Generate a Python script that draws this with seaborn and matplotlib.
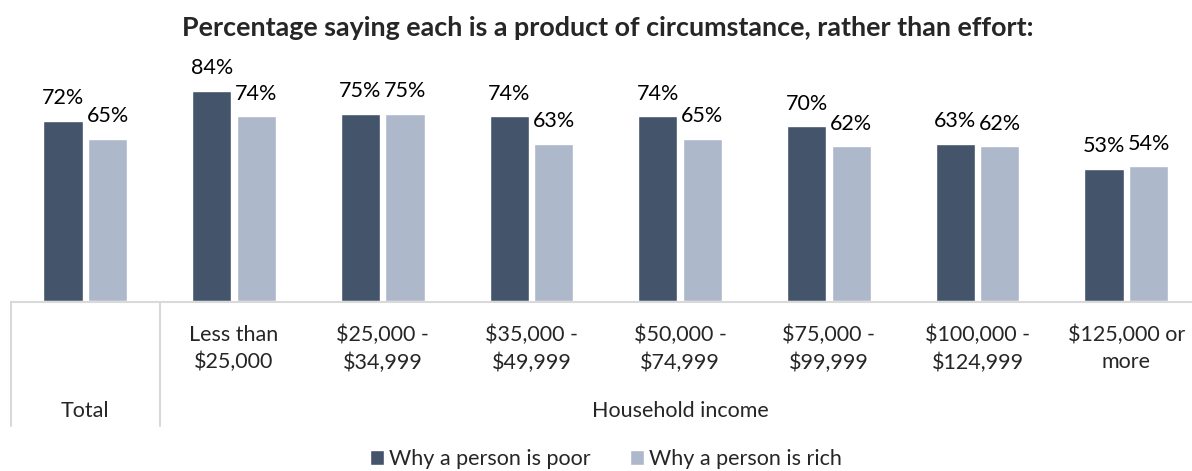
import pandas as pd
import matplotlib.pyplot as plt
import seaborn as sns
from matplotlib.patches import Patch

categories = ["Total", "Less than\n$25,000", "$25,000 -\n$34,999", "$35,000 -\n$49,999",
              "$50,000 -\n$74,999", "$75,000 -\n$99,999", "$100,000 -\n$124,999", "$125,000 or\nmore"]
poor = [72, 84, 75, 74, 74, 70, 63, 53]
rich = [65, 74, 75, 63, 65, 62, 62, 54]
series = ["Why a person is poor", "Why a person is rich"]
group_label = "Household income"
title = "Percentage saying each is a product of circumstance, rather than effort:"

colors = ["#44546A", "#ADB9CA"]
grid_col = "#D9D9D9"

df = pd.DataFrame({
    "cat": categories * 2,
    "series": [series[0]] * len(categories) + [series[1]] * len(categories),
    "val": poor + rich,
})

sns.set_style("white")
plt.rcParams['font.family'] = ['Lato', 'DejaVu Sans']
fs = 15.5

W, H = 1192, 471
fig = plt.figure(figsize=(W / 100, H / 100), dpi=100)
# axes: left edge 11px, category width ~148.7px, baseline at y=301, 2.5px per %
left, cw, base = 11, 148.7, 301
ax = fig.add_axes([left / W, 1 - base / H, 8 * cw / W, 250 / H])

sns.barplot(data=df, x="cat", y="val", hue="series", palette=colors,
            width=0.6, gap=0.12, ax=ax, legend=False, saturation=1)
ax.set_xlim(-0.5, 7.5)
ax.set_ylim(0, 100)

for cont in ax.containers:
    ax.bar_label(cont, labels=[f"{v:.0f}%" for v in cont.datavalues],
                 padding=9, fontsize=fs, color="#000000")

for s in ax.spines.values():
    s.set_visible(False)
ax.set_xticks([])
ax.set_yticks([])
ax.set_xlabel("")
ax.set_ylabel("")

# category table under the axis
tr = ax.get_xaxis_transform()
ax.plot([-0.5, 7.5], [-0.004, -0.004], transform=tr, color=grid_col, lw=1.5, clip_on=False)
for xv in [-0.5, 0.5]:
    ax.plot([xv, xv], [-0.004, -0.5], transform=tr, color=grid_col, lw=1.5, clip_on=False)

for i, c in enumerate(categories[1:], start=1):
    ax.text(i, -0.19, c, transform=tr, ha="center", va="center", fontsize=fs,
            linespacing=1.45)
ax.text(0, -0.44, categories[0], transform=tr, ha="center", va="center", fontsize=fs)
ax.text(4, -0.44, group_label, transform=tr, ha="center", va="center", fontsize=fs)

fig.text(608 / W, 1 - 28 / H, title, ha="center", va="center", fontsize=19.4, fontweight="bold")

handles = [Patch(facecolor=colors[0]), Patch(facecolor=colors[1])]
fig.legend(handles, series, loc="center", bbox_to_anchor=(606 / W, 1 - 459 / H),
           ncol=2, frameon=False, fontsize=15.5, handlelength=0.65, handleheight=0.65,
           handletextpad=0.25, columnspacing=1.8)

fig.savefig("out.png", dpi=100)
